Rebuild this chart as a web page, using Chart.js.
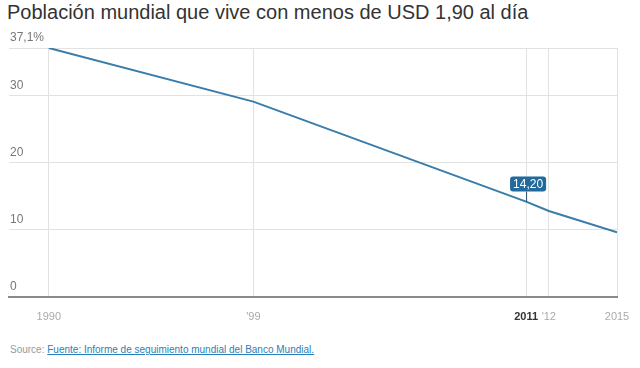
<!DOCTYPE html>
<html>
<head>
<meta charset="utf-8">
<script src="https://cdn.jsdelivr.net/npm/chart.js@4/dist/chart.umd.min.js"></script>
<style>
  html, body { margin: 0; padding: 0; background: #fff; width: 640px; height: 368px; overflow: hidden; font-family: "Liberation Sans", Arial, sans-serif; }
  #title { position: absolute; left: 7px; top: 1px; font-size: 20px; color: #333; white-space: nowrap; }
  #wrap { position: absolute; left: 0; top: 30px; width: 640px; height: 308px; }
  #source { position: absolute; left: 10px; top: 344px; font-size: 10px; color: #999; white-space: nowrap; }
  #source a { color: #2a7fb8; text-decoration: underline; }
</style>
</head>
<body>
<div id="title">Población mundial que vive con menos de USD 1,90 al día</div>
<div id="wrap"><canvas id="c"></canvas></div>
<div id="source">Source: <a>Fuente: Informe de seguimiento mundial del Banco Mundial.</a></div>
<script>
const years = [1990, 1999, 2011, 2012, 2015];
const values = [37.1, 29.1, 14.2, 12.8, 9.6];
const xTickLabels = ['1990', "'99", '2011', "'12", '2015'];
const yTicks = [0, 10, 20, 30, 37.1];
const yTickLabels = ['0', '10', '20', '30', '37,1%'];
const highlightYear = 2011;
const highlightLabel = '14,20';

const annotationPlugin = {
  id: 'annot',
  afterDatasetsDraw(chart) {
    const ctx = chart.ctx;
    const xs = chart.scales.x, ys = chart.scales.y;
    const i = years.indexOf(highlightYear);
    const px = xs.getPixelForValue(years[i]);
    const py = ys.getPixelForValue(values[i]);
    ctx.save();
    ctx.font = '12px "Liberation Sans", Arial, sans-serif';
    const tw = ctx.measureText(highlightLabel).width;
    const bw = tw + 6, bh = 15;
    const bx = px - bw / 2 + 2, by = py - 25;
    ctx.strokeStyle = '#2b4f6a';
    ctx.lineWidth = 1;
    ctx.beginPath();
    ctx.moveTo(px + 0.5, by + bh);
    ctx.lineTo(px + 0.5, py);
    ctx.stroke();
    ctx.fillStyle = '#22699c';
    ctx.beginPath();
    ctx.roundRect(bx, by, bw, bh, 3);
    ctx.fill();
    ctx.fillStyle = '#fff';
    ctx.textAlign = 'center';
    ctx.textBaseline = 'middle';
    ctx.fillText(highlightLabel, bx + bw / 2, by + bh / 2 + 0.5);
    ctx.restore();
  }
};

new Chart(document.getElementById('c'), {
  type: 'line',
  data: {
    datasets: [{
      data: years.map((y, i) => ({ x: y, y: values[i] })),
      borderColor: '#3a7caa',
      borderWidth: 2,
      pointRadius: 0,
      tension: 0,
      fill: false
    }]
  },
  options: {
    responsive: true,
    maintainAspectRatio: false,
    animation: false,
    layout: { padding: { left: 7, right: 23, top: 18, bottom: 0 } },
    plugins: { legend: { display: false }, tooltip: { enabled: false } },
    scales: {
      x: {
        type: 'linear',
        min: 1988.25,
        max: 2015,
        afterBuildTicks: (axis) => { axis.ticks = years.map(v => ({ value: v })); },
        afterFit: (axis) => { axis.paddingRight = 0; axis.paddingLeft = 0; },
        grid: { color: '#e2e2e2', drawTicks: false },
        border: { display: true, color: '#8a8a8a', width: 2 },
        ticks: {
          padding: 14,
          maxRotation: 0,
          autoSkip: false,
          callback: (v) => xTickLabels[years.indexOf(v)],
          color: (c) => c.tick && c.tick.value === highlightYear ? '#333' : '#aaa',
          font: (c) => ({ family: '"Liberation Sans", Arial, sans-serif', size: 11, weight: c.tick && c.tick.value === highlightYear ? 'bold' : 'normal' })
        }
      },
      y: {
        min: 0,
        max: 37.1,
        afterBuildTicks: (axis) => { axis.ticks = yTicks.map(v => ({ value: v })); },
        grid: { color: '#e2e2e2', drawTicks: false },
        border: { display: false },
        ticks: {
          mirror: true,
          padding: 1,
          labelOffset: -10,
          callback: (v) => yTickLabels[yTicks.indexOf(v)],
          color: '#777',
          font: { family: '"Liberation Sans", Arial, sans-serif', size: 12 }
        }
      }
    }
  },
  plugins: [annotationPlugin]
});
</script>
</body>
</html>
